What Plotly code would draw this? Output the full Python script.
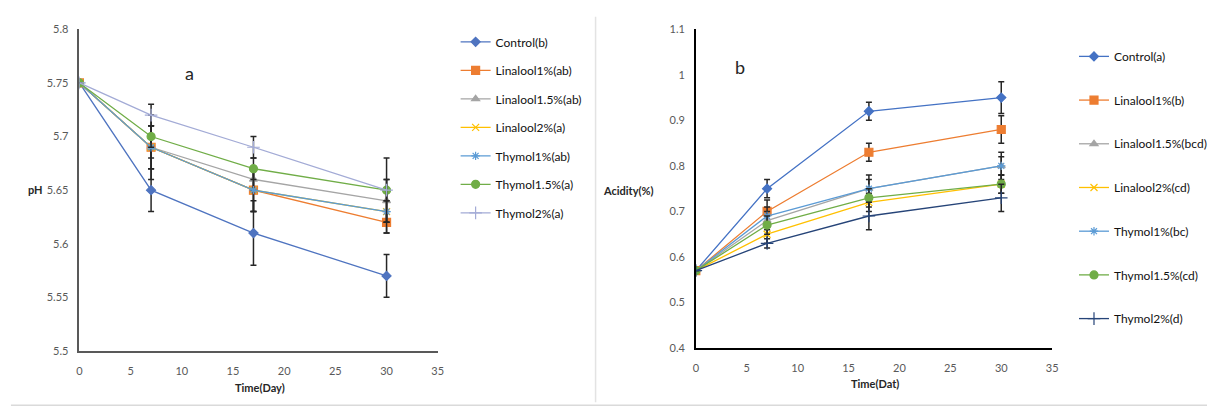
import plotly.graph_objects as go

W, H = 1213, 419

# ---------------- data ----------------
days = [0, 7, 17, 30]

ph_names = ["Control(b)", "Linalool1%(ab)", "Linalool1.5%(ab)", "Linalool2%(a)",
            "Thymol1%(ab)", "Thymol1.5%(a)", "Thymol2%(a)"]
ph_control = [5.75, 5.65, 5.61, 5.57]
ph_lin1 = [5.75, 5.69, 5.65, 5.62]
ph_lin15 = [5.75, 5.69, 5.66, 5.64]
ph_lin2 = [5.75, 5.69, 5.65, 5.63]
ph_thy1 = [5.75, 5.69, 5.65, 5.63]
ph_thy15 = [5.75, 5.70, 5.67, 5.65]
ph_thy2 = [5.75, 5.72, 5.69, 5.65]

ph_err_control = [0, 0.02, 0.03, 0.02]
ph_err_lin1 = [0, 0.02, 0.02, 0.01]
ph_err_lin15 = [0, 0.03, 0.01, 0.02]
ph_err_lin2 = [0, 0.02, 0.02, 0.02]
ph_err_thy1 = [0, 0.01, 0.02, 0.01]
ph_err_thy15 = [0, 0.01, 0.01, 0.03]
ph_err_thy2 = [0, 0.01, 0.01, 0.01]

ac_names = ["Control(a)", "Linalool1%(b)", "Linalool1.5%(bcd)", "Linalool2%(cd)",
            "Thymol1%(bc)", "Thymol1.5%(cd)", "Thymol2%(d)"]
ac_control = [0.57, 0.75, 0.92, 0.95]
ac_lin1 = [0.57, 0.70, 0.83, 0.88]
ac_lin15 = [0.57, 0.68, 0.75, 0.80]
ac_lin2 = [0.57, 0.65, 0.72, 0.76]
ac_thy1 = [0.57, 0.69, 0.75, 0.80]
ac_thy15 = [0.57, 0.67, 0.73, 0.76]
ac_thy2 = [0.57, 0.63, 0.69, 0.73]

ac_err_control = [0, 0.02, 0.02, 0.035]
ac_err_lin1 = [0, 0.025, 0.02, 0.03]
ac_err_lin15 = [0, 0.02, 0.02, 0.02]
ac_err_lin2 = [0, 0.02, 0.02, 0.02]
ac_err_thy1 = [0, 0.02, 0.03, 0.03]
ac_err_thy15 = [0, 0.02, 0.02, 0.02]
ac_err_thy2 = [0, 0.01, 0.03, 0.03]

x_ticks = [0, 5, 10, 15, 20, 25, 30, 35]
ph_ticks = [5.5, 5.55, 5.6, 5.65, 5.7, 5.75, 5.8]
ph_ticktext = ["5.5", "5.55", "5.6", "5.65", "5.7", "5.75", "5.8"]
ac_ticks = [0.4, 0.5, 0.6, 0.7, 0.8, 0.9, 1.0, 1.1]
ac_ticktext = ["0.4", "0.5", "0.6", "0.7", "0.8", "0.9", "1", "1.1"]

# ---------------- styles ----------------
FONT = "Lato, 'Open Sans', sans-serif"
colors_ph = ["#4F74C0", "#ED7D31", "#A5A5A5", "#FFC000", "#5B9BD5", "#70AD47", "#A3ABD6"]
colors_ac = ["#4472C4", "#ED7D31", "#A5A5A5", "#FFC000", "#5B9BD5", "#70AD47", "#264478"]
symbols = ["diamond", "square", "triangle-up", "x-thin-open", "asterisk-open", "circle", "cross-thin-open"]
sizes = [7, 8, 7, 7, 7, 8, 9]

ph_series = [ph_control, ph_lin1, ph_lin15, ph_lin2, ph_thy1, ph_thy15, ph_thy2]
ph_errs = [ph_err_control, ph_err_lin1, ph_err_lin15, ph_err_lin2, ph_err_thy1, ph_err_thy15, ph_err_thy2]
ac_series = [ac_control, ac_lin1, ac_lin15, ac_lin2, ac_thy1, ac_thy15, ac_thy2]
ac_errs = [ac_err_control, ac_err_lin1, ac_err_lin15, ac_err_lin2, ac_err_thy1, ac_err_thy15, ac_err_thy2]

fig = go.Figure()

def add_series(names, series, errs, colors, xa, ya, legend, grp):
    for i, (nm, ys, es, c) in enumerate(zip(names, series, errs, colors)):
        fig.add_trace(go.Scatter(
            x=days, y=ys, name=nm, mode="lines+markers",
            xaxis=xa, yaxis=ya, legend=legend, legendgroup=f"{grp}{i}",
            line=dict(color=c, width=1.3),
            marker=dict(symbol=symbols[i], size=sizes[i], color=c,
                        line=dict(color=c, width=1.2)),
            error_y=dict(type="data", array=es, visible=True,
                         color="#262626", thickness=1.5, width=3),
        ))

add_series(ph_names, ph_series, ph_errs, colors_ph, "x", "y", "legend", "a")
add_series(ac_names, ac_series, ac_errs, colors_ac, "x2", "y2", "legend2", "b")

def px_x(p):
    return p / W

def px_y(p):
    return 1 - p / H

tickfont = dict(family=FONT, size=11, color="#595959")
xaxis_common = dict(showgrid=False, zeroline=False, showline=True, ticks="",
                    tickfont=tickfont, fixedrange=True, ticklabelstandoff=9)
yaxis_common = dict(showgrid=False, zeroline=False, showline=True, ticks="",
                    tickfont=tickfont, fixedrange=True, ticklabelstandoff=7)

fig.update_layout(
    width=W, height=H, margin=dict(l=0, r=0, t=0, b=0),
    paper_bgcolor="white", plot_bgcolor="white",
    font=dict(family=FONT, color="#262626"),
    xaxis=dict(domain=[px_x(77), px_x(438)], range=[0, 35], tickvals=x_ticks,
               linecolor="#595959", linewidth=1.5, anchor="y", **xaxis_common),
    yaxis=dict(domain=[px_y(355), px_y(23)], range=[5.5, 5.8], tickvals=ph_ticks,
               ticktext=ph_ticktext, linecolor="#595959", linewidth=1.5, anchor="x",
               **yaxis_common),
    xaxis2=dict(domain=[px_x(698), px_x(1057)], range=[0, 35], tickvals=x_ticks,
                linecolor="#000000", linewidth=1.5, anchor="y2", **xaxis_common),
    yaxis2=dict(domain=[px_y(352), px_y(23)], range=[0.4, 1.1], tickvals=ac_ticks,
                ticktext=ac_ticktext, linecolor="#000000", linewidth=1.5, anchor="x2",
                **yaxis_common),
    legend=dict(x=px_x(456), y=px_y(21), xanchor="left", yanchor="top",
                font=dict(family=FONT, size=12, color="#111111"),
                tracegroupgap=9.5, itemwidth=30, bgcolor="rgba(0,0,0,0)"),
    legend2=dict(x=px_x(1079), y=px_y(36), xanchor="left", yanchor="top",
                 font=dict(family=FONT, size=12, color="#111111"),
                 tracegroupgap=24.7, itemwidth=30, bgcolor="rgba(0,0,0,0)"),
    showlegend=True,
)

annots = [
    dict(text="a", x=px_x(188), y=px_y(68), size=18, bold=False),
    dict(text="b", x=px_x(743), y=px_y(62), size=18, bold=False),
    dict(text="pH", x=px_x(33), y=px_y(188), size=11, bold=True),
    dict(text="Time(Day)", x=px_x(259), y=px_y(393), size=11, bold=True),
    dict(text="Acidity(%)", x=px_x(630), y=px_y(189), size=11, bold=True),
    dict(text="Time(Dat)", x=px_x(879), y=px_y(389), size=11, bold=True),
]
for a in annots:
    fig.add_annotation(
        text=f"<b>{a['text']}</b>" if a["bold"] else a["text"],
        x=a["x"], y=a["y"], xref="paper", yref="paper", showarrow=False,
        xanchor="center", yanchor="middle",
        font=dict(family=FONT, size=a["size"], color="#262626"),
    )

# panel frame lines
fig.add_shape(type="line", xref="paper", yref="paper", x0=px_x(8), x1=1, y0=px_y(411), y1=px_y(411),
              line=dict(color="#DADADA", width=1.5))
fig.add_shape(type="line", xref="paper", yref="paper", x0=px_x(597), x1=px_x(597), y0=px_y(408), y1=px_y(10),
              line=dict(color="#E3E3E3", width=1.5))

fig.write_html("out.html")
